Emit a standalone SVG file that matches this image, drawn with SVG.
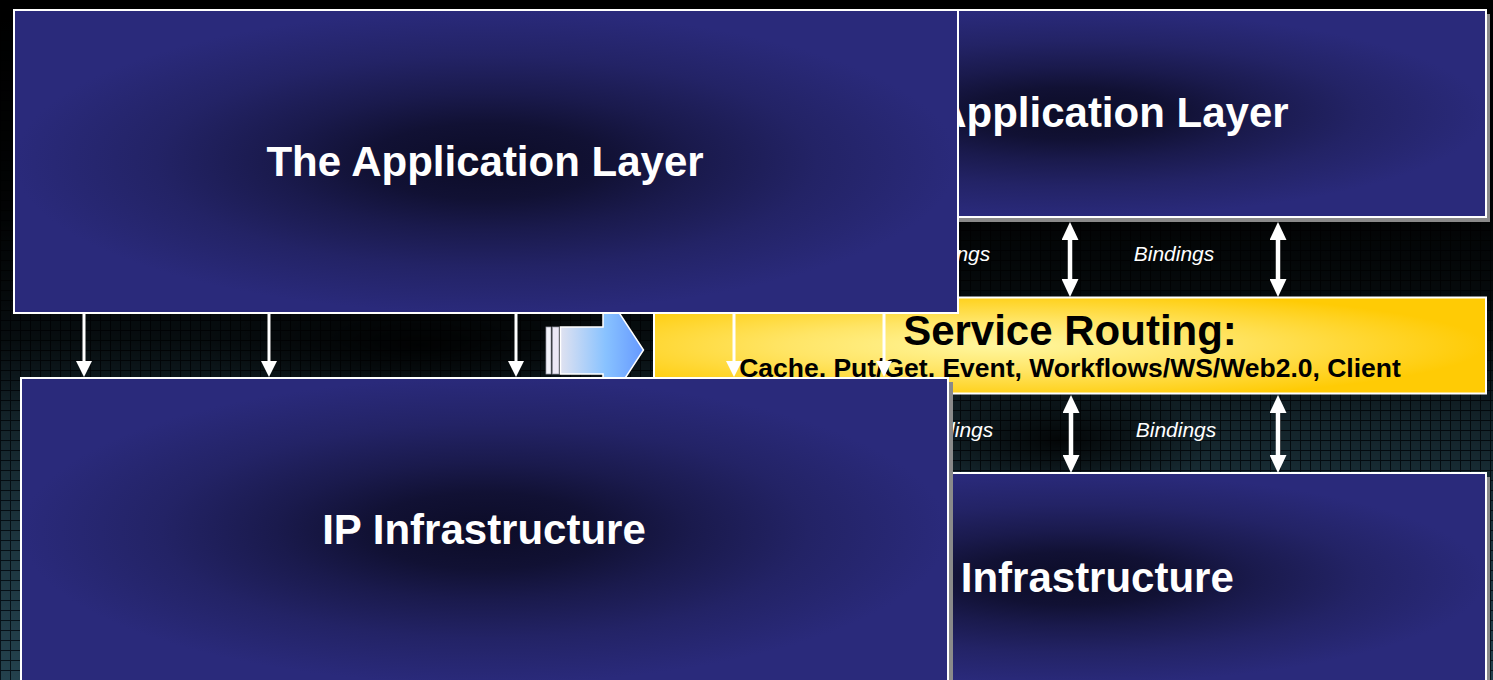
<svg xmlns="http://www.w3.org/2000/svg" width="1493" height="680" viewBox="0 0 1493 680">
  <defs>
    <style>
      .panel { fill: url(#panelFill); stroke: #ffffff; stroke-width: 2; }
      .shadow { fill: #8a8a8a; }
      .title { font-family: "Liberation Sans", Arial, sans-serif; font-weight: bold; font-size: 42px; fill: #ffffff; text-anchor: middle; }
      .route { font-family: "Liberation Sans", Arial, sans-serif; font-weight: bold; fill: #000000; text-anchor: middle; }
      .bind { font-family: "Liberation Sans", Arial, sans-serif; font-style: italic; font-size: 21px; fill: #ffffff; text-anchor: middle; }
      .down { stroke: #ffffff; stroke-width: 3; fill: none; marker-end: url(#headDown); }
      .both { stroke: #ffffff; stroke-width: 4.5; fill: none; marker-start: url(#headBoth); marker-end: url(#headBoth); }
    </style>

    <!-- background grid tile -->
    <pattern id="grid" width="10" height="10" patternUnits="userSpaceOnUse">
      <rect width="10" height="10" fill="#23414d"/>
      <path d="M0 0.5H10M0.5 0V10" stroke="#07121a" stroke-width="1"/>
    </pattern>
    <linearGradient id="gridFade" x1="0" y1="0" x2="0" y2="1">
      <stop offset="0" stop-color="#000"/>
      <stop offset="0.3" stop-color="#0c0c0c"/>
      <stop offset="0.5" stop-color="#333"/>
      <stop offset="0.62" stop-color="#8a8a8a"/>
      <stop offset="0.8" stop-color="#d0d0d0"/>
      <stop offset="1" stop-color="#fff"/>
    </linearGradient>
    <radialGradient id="blot" cx="0.5" cy="0.5" r="0.5">
      <stop offset="0" stop-color="#000" stop-opacity="0.85"/>
      <stop offset="1" stop-color="#000" stop-opacity="0"/>
    </radialGradient>
    <mask id="gridMask" maskUnits="userSpaceOnUse" x="0" y="0" width="1493" height="680">
      <rect width="1493" height="680" fill="url(#gridFade)"/>
      <ellipse cx="1060" cy="440" rx="150" ry="60" fill="url(#blot)"/>
      <ellipse cx="420" cy="345" rx="220" ry="60" fill="url(#blot)"/>
    </mask>

    <!-- navy panel, darker behind the caption -->
    <radialGradient id="panelFill" cx="0.5" cy="0.5" r="0.5">
      <stop offset="0" stop-color="#0c0c27"/>
      <stop offset="0.25" stop-color="#111134"/>
      <stop offset="0.45" stop-color="#1a1a4d"/>
      <stop offset="0.7" stop-color="#232366"/>
      <stop offset="1" stop-color="#2a2a7b"/>
    </radialGradient>

    <!-- service routing band -->
    <radialGradient id="routeFill" cx="0.42" cy="0.5" r="0.58">
      <stop offset="0" stop-color="#fff7a0"/>
      <stop offset="0.45" stop-color="#ffe566"/>
      <stop offset="1" stop-color="#ffcb05"/>
    </radialGradient>

    <!-- block arrow shading -->
    <linearGradient id="blockFill" gradientUnits="userSpaceOnUse" x1="560" y1="0" x2="643" y2="0">
      <stop offset="0" stop-color="#e0e2f0"/>
      <stop offset="0.55" stop-color="#88c2ff"/>
      <stop offset="1" stop-color="#6699ff"/>
    </linearGradient>

    <marker id="headDown" markerUnits="userSpaceOnUse" viewBox="0 0 16 16" markerWidth="16" markerHeight="16" refX="5" refY="8" orient="auto">
      <path d="M0 0L16 8L0 16z" fill="#ffffff"/>
    </marker>
    <marker id="headBoth" markerUnits="userSpaceOnUse" viewBox="0 0 18 17" markerWidth="18" markerHeight="17" refX="6" refY="8.5" orient="auto-start-reverse">
      <path d="M0 0L18 8.5L0 17z" fill="#ffffff"/>
    </marker>
  </defs>

  <!-- backdrop -->
  <rect width="1493" height="680" fill="#000000"/>
  <rect width="1493" height="680" fill="url(#grid)" mask="url(#gridMask)"/>

  <!-- layered stack: applications, routing, infrastructure -->
  <g id="app-layer-right">
    <rect class="shadow" x="659" y="14" width="831" height="208"/>
    <rect class="panel" x="655" y="10" width="831" height="207"/>
    <text class="title" x="1070" y="127">The Application Layer</text>
  </g>

  <g id="infra-right">
    <rect class="shadow" x="659" y="477" width="831" height="212"/>
    <rect class="panel" x="655" y="473" width="831" height="211"/>
    <text class="title" x="1072" y="592">IP Infrastructure</text>
  </g>

  <g id="service-routing">
    <rect x="654" y="297.5" width="832" height="96" fill="url(#routeFill)" stroke="#ffffff" stroke-width="2"/>
    <text class="route" x="1070" y="345" font-size="42">Service Routing:</text>
    <text class="route" x="1070" y="377" font-size="26.5">Cache, Put/Get, Event, Workflows/WS/Web2.0, Client</text>
  </g>

  <g id="bindings-labels">
    <text class="bind" x="950" y="261">Bindings</text>
    <text class="bind" x="1174" y="261">Bindings</text>
    <text class="bind" x="953" y="437">Bindings</text>
    <text class="bind" x="1176" y="437">Bindings</text>
  </g>

  <g id="bindings-connectors">
    <line class="both" x1="1070" y1="234" x2="1070" y2="285"/>
    <line class="both" x1="1278" y1="234" x2="1278" y2="285"/>
    <line class="both" x1="1071" y1="407" x2="1071" y2="461"/>
    <line class="both" x1="1278" y1="407" x2="1278" y2="461"/>
  </g>

  <!-- transition arrow -->
  <g id="transition-arrow">
    <rect x="546" y="327" width="5" height="47" fill="#f2f2fa" stroke="#9a9aa8" stroke-width="0.75"/>
    <rect x="552.5" y="327" width="6.5" height="47" fill="#ece8f6" stroke="#9a9aa8" stroke-width="0.75"/>
    <path d="M560.5 327H603V288L643.5 350L603 412V374H560.5Z" fill="url(#blockFill)" stroke="#ffffff" stroke-width="1.5"/>
  </g>

  <!-- two-tier stack -->
  <g id="infra-left">
    <rect class="shadow" x="25" y="382" width="928" height="306"/>
    <rect class="panel" x="21" y="378" width="927" height="306"/>
    <text class="title" x="484" y="544">IP Infrastructure</text>
  </g>

  <g id="app-layer-left">
    <rect class="panel" x="14" y="10" width="944" height="303"/>
    <text class="title" x="485" y="176">The Application Layer</text>
  </g>

  <g id="stack-connectors">
    <line class="down" x1="84" y1="314" x2="84" y2="366"/>
    <line class="down" x1="269" y1="314" x2="269" y2="366"/>
    <line class="down" x1="516" y1="314" x2="516" y2="366"/>
    <line class="down" x1="734" y1="314" x2="734" y2="366"/>
    <line class="down" x1="884" y1="314" x2="884" y2="366"/>
  </g>
</svg>
